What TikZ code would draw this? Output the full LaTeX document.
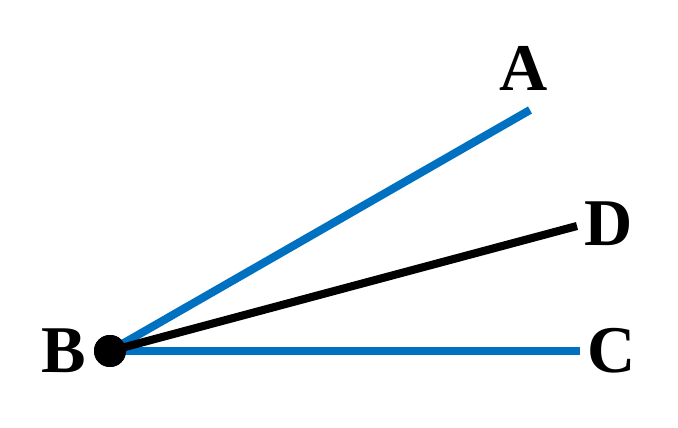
\documentclass[tikz,border=0pt]{standalone}
\usepackage{fontspec}
\setmainfont{Liberation Serif}
\definecolor{rayblue}{RGB}{0,112,192}
\begin{document}
\begin{tikzpicture}[x=0.02cm,y=-0.02cm,
  ray/.style={line width=4.6pt},
  lbl/.style={font=\fontsize{38}{40}\selectfont\bfseries,inner sep=0pt}]
\useasboundingbox (0,0) rectangle (678,428);
\node[circle,fill,inner sep=0pt,minimum size=0.64cm] (B) at (110,351) {};
\coordinate (A) at (530,110);
\coordinate (D) at (577,226);
\coordinate (C) at (580,351);
\node[lbl] (lA) at (524,68) {A};
\node[lbl] (lD) at (609,224) {D};
\node[lbl] (lC) at (612,351) {C};
\node[lbl] (lB) at (64,351) {B};
\draw[ray,rayblue] (B.center) -- (A);
\draw[ray,rayblue] (B.center) -- (C);
\draw[ray] (B.center) -- (D);
\fill (B) circle (0.32cm);
\end{tikzpicture}
\end{document}
